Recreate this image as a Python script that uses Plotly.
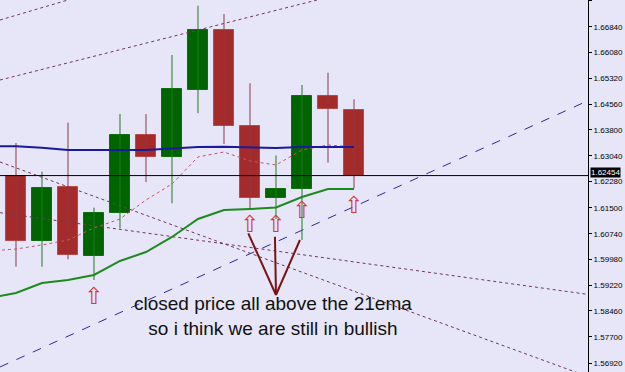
import plotly.graph_objects as go

# ---- data ----
idx = list(range(14))
opens  = [1.62451, 1.60525, 1.62109, 1.60091, 1.61342, 1.63661, 1.63012, 1.64979, 1.66749, 1.63917, 1.61779, 1.62059, 1.64802, 1.64389]
highs  = [1.63416, 1.62569, 1.64015, 1.61507, 1.64271, 1.64271, 1.66012, 1.67466, 1.67221, 1.65177, 1.63047, 1.65127, 1.65490, 1.64705]
lows   = [1.59767, 1.59767, 1.59985, 1.59374, 1.60899, 1.62265, 1.61637, 1.64292, 1.63386, 1.61484, 1.61174, 1.60554, 1.62835, 1.62079]
closes = [1.60534, 1.62079, 1.60112, 1.61342, 1.63661, 1.62994, 1.65009, 1.66749, 1.63917, 1.61779, 1.62050, 1.64802, 1.64410, 1.62454]

ind_x = list(range(-1, 14))
ema21 = [1.58843, 1.58991, 1.59286, 1.59374, 1.59522, 1.59935, 1.60200, 1.60643, 1.61174, 1.61439, 1.61469, 1.61513, 1.61823, 1.62059, 1.62059]
ma_blue = [1.63318, 1.63318, 1.63277, 1.63209, 1.63209, 1.63209, 1.63209, 1.63254, 1.63298, 1.63307, 1.63283, 1.63268, 1.63298, 1.63298, 1.63298]
ma_pink = [1.60230, 1.60289, 1.60407, 1.60554, 1.60908, 1.61174, 1.61734, 1.62206, 1.63003, 1.63150, 1.62885, 1.62767, 1.63209, 1.63357, 1.63298]

# trend lines: (x0, y0, x1, y1) in bar-index / price units
trend_dotted = [
    (-0.615, 1.67044, 4.615, 1.68224),
    (-0.615, 1.65274, 11.577, 1.67634),
    (-0.615, 1.62855, 22.0, 1.56525),
    (-0.615, 1.61360, 22.0, 1.58949),
]
trend_dashed = (-0.615, 1.56808, 22.0, 1.64664)

current_price = 1.62454
arrow_idx = [3, 9, 10, 11, 13]
arrow_price = [1.58843, 1.60967, 1.60967, 1.61366, 1.61528]

pointer_tip = (10, 1.58932)
pointer_ends = [(8.935, 1.60752), (9.96, 1.60652), (10.92, 1.60554)]

note_lines = ["closed price all above the 21ema", "so i think we are still in bullish"]
note_pos = (9.9, 1.5830)

tick_vals = [1.67620, 1.66840, 1.66080, 1.65320, 1.64560, 1.63800, 1.63040, 1.62280,
             1.61500, 1.60740, 1.59980, 1.59220, 1.58460, 1.57700, 1.56920]
tick_text = ["%.5f" % v for v in tick_vals]

X_RANGE = [-0.615, 22.0]
Y_RANGE = [1.5666, 1.67634]

BG = "#E6E6F8"
RED = "#A52A2A"
RED_EDGE = "#B94848"
RED_WICK = "#8E3848"
GREEN = "#006400"
GREEN_EDGE = "#0E6E0E"
GREEN_WICK = "#1F7A1F"

fig = go.Figure()

# trend lines (behind candles)
for (x0, y0, x1, y1) in trend_dotted:
    fig.add_trace(go.Scatter(x=[x0, x1], y=[y0, y1], mode="lines",
                             line=dict(color="#74365A", width=1, dash="dot"),
                             hoverinfo="skip", showlegend=False))
fig.add_trace(go.Scatter(x=[trend_dashed[0], trend_dashed[2]], y=[trend_dashed[1], trend_dashed[3]],
                         mode="lines", line=dict(color="#2A2A9A", width=1, dash="dash"),
                         hoverinfo="skip", showlegend=False))

# wicks
def wick_xy(up):
    xs, ys = [], []
    for i, o, h, l, c in zip(idx, opens, highs, lows, closes):
        if (c >= o) == up:
            xs += [i, i, None]
            ys += [l, h, None]
    return xs, ys

for up, col in [(True, GREEN_WICK), (False, RED_WICK)]:
    xs, ys = wick_xy(up)
    fig.add_trace(go.Scatter(x=xs, y=ys, mode="lines", line=dict(color=col, width=1),
                             hoverinfo="skip", showlegend=False))

# bodies
for up, fill, edge in [(True, GREEN, GREEN_EDGE), (False, RED, RED_EDGE)]:
    bx, bb, bh = [], [], []
    for i, o, c in zip(idx, opens, closes):
        if (c >= o) == up:
            bx.append(i)
            bb.append(min(o, c))
            bh.append(abs(c - o))
    fig.add_trace(go.Bar(x=bx, y=bh, base=bb, width=0.77,
                         marker=dict(color=fill, line=dict(color=edge, width=1)),
                         hoverinfo="skip", showlegend=False))

# indicators
fig.add_trace(go.Scatter(x=ind_x, y=ma_pink, mode="lines",
                         line=dict(color="#C8506E", width=1, dash="dot"),
                         hoverinfo="skip", showlegend=False))
fig.add_trace(go.Scatter(x=ind_x, y=ma_blue, mode="lines",
                         line=dict(color="#1A1A9C", width=2),
                         hoverinfo="skip", showlegend=False))
fig.add_trace(go.Scatter(x=ind_x, y=ema21, mode="lines",
                         line=dict(color="#1C8A1C", width=2),
                         hoverinfo="skip", showlegend=False))

# current price line
fig.add_trace(go.Scatter(x=X_RANGE, y=[current_price, current_price], mode="lines",
                         line=dict(color="#000000", width=1),
                         hoverinfo="skip", showlegend=False))

# arrows
fig.add_trace(go.Scatter(x=arrow_idx, y=arrow_price, mode="text", text=["⇧"] * len(arrow_idx),
                         textfont=dict(family="DejaVu Sans", size=23, color="#D03A3A"),
                         textposition="middle center", hoverinfo="skip", showlegend=False))

# pointer lines
px_, py_ = [], []
for (ex, ey) in pointer_ends:
    px_ += [pointer_tip[0], ex, None]
    py_ += [pointer_tip[1], ey, None]
fig.add_trace(go.Scatter(x=px_, y=py_, mode="lines", line=dict(color="#7A1414", width=2),
                         hoverinfo="skip", showlegend=False))

fig.add_annotation(x=note_pos[0], y=note_pos[1], xref="x", yref="y",
                   text="<br>".join(note_lines), showarrow=False,
                   font=dict(family="Liberation Sans", size=19, color="#111111"),
                   align="center", xanchor="center", yanchor="middle")

# current price label on axis
fig.add_annotation(x=1, y=current_price, xref="paper", yref="y", text="%.5f" % current_price,
                   showarrow=False, xanchor="left", yanchor="middle", xshift=2, yshift=3,
                   font=dict(family="Liberation Sans", size=8, color="#FFFFFF"),
                   bgcolor="#000000", borderpad=0)

fig.update_layout(
    width=625, height=372,
    margin=dict(l=0, r=37, t=0, b=0),
    paper_bgcolor=BG, plot_bgcolor=BG,
    barmode="overlay", bargap=0,
    showlegend=False,
    xaxis=dict(range=X_RANGE, visible=False, showgrid=False, zeroline=False, fixedrange=True),
    yaxis=dict(range=Y_RANGE, side="right", showgrid=False, zeroline=False,
               tickvals=tick_vals, ticktext=tick_text, ticks="outside", ticklen=3,
               tickcolor="#000000", showline=True, linecolor="#000000", linewidth=1,
               tickfont=dict(family="Liberation Sans", size=8, color="#000000")),
)

fig.write_html("out.html")
